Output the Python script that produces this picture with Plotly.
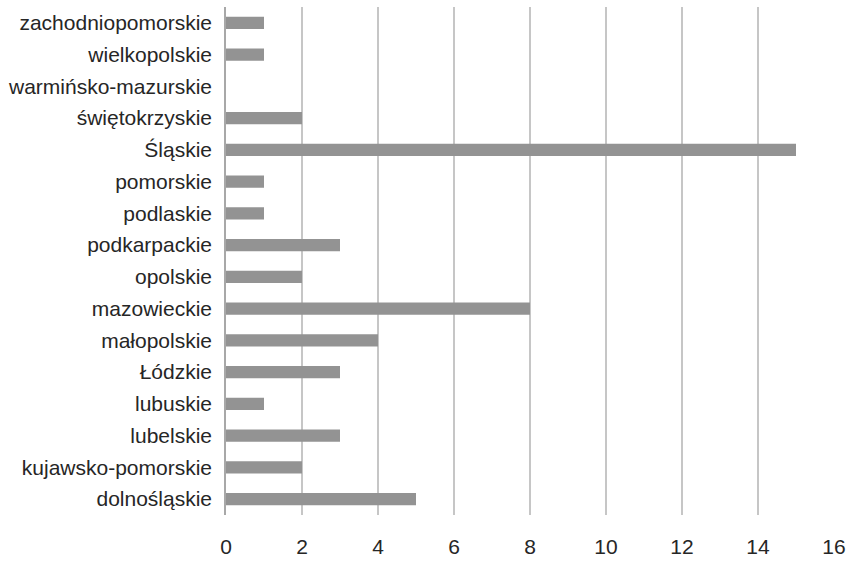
import plotly.graph_objects as go

regions = [
    "dolnośląskie", "kujawsko-pomorskie", "lubelskie", "lubuskie", "Łódzkie",
    "małopolskie", "mazowieckie", "opolskie", "podkarpackie", "podlaskie",
    "pomorskie", "Śląskie", "świętokrzyskie", "warmińsko-mazurskie",
    "wielkopolskie", "zachodniopomorskie",
]
counts = [5, 2, 3, 1, 3, 4, 8, 2, 3, 1, 1, 15, 2, 0, 1, 1]
x_ticks = [0, 2, 4, 6, 8, 10, 12, 14, 16]

fig = go.Figure(
    go.Bar(
        x=counts,
        y=regions,
        orientation="h",
        marker=dict(color="#939393", line=dict(width=0)),
    )
)

fig.update_layout(
    width=853,
    height=565,
    margin=dict(l=226, r=16, t=7, b=45),
    paper_bgcolor="white",
    plot_bgcolor="white",
    bargap=0.62,
    showlegend=False,
    font=dict(family="Liberation Sans, Arial, sans-serif", size=21, color="#262626"),
)

fig.update_xaxes(
    range=[0, 16],
    tickvals=x_ticks,
    showgrid=True,
    gridcolor="#c6c6c6",
    gridwidth=1.5,
    zeroline=False,
    showline=False,
    ticks="",
    ticklabelstandoff=17,
)

fig.update_yaxes(
    categoryorder="array",
    categoryarray=regions,
    showgrid=False,
    showline=True,
    linecolor="#a8a8a8",
    linewidth=1.5,
    ticks="",
    ticklabelstandoff=8,
)

fig.write_html("out.html")
